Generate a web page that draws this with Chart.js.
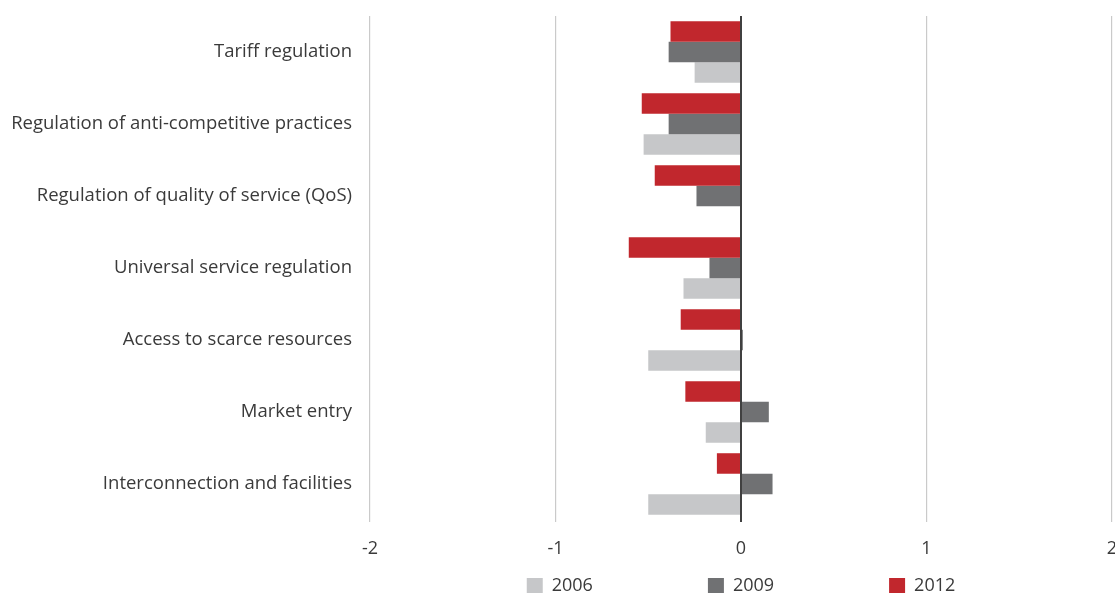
<!DOCTYPE html>
<html>
<head>
<meta charset="utf-8">
<script src="https://cdn.jsdelivr.net/npm/chart.js@4/dist/chart.umd.min.js"></script>
<style>
  html, body { margin: 0; padding: 0; background: #fff; overflow: hidden; }
  #wrap { width: 1115px; height: 593px; position: relative; }
</style>
</head>
<body>
<div id="wrap"><canvas id="chart"></canvas></div>
<script>
/* ── data ─────────────────────────────────────────────── */
const categories = [
  'Tariff regulation',
  'Regulation of anti-competitive practices',
  'Regulation of quality of service (QoS)',
  'Universal service regulation',
  'Access to scarce resources',
  'Market entry',
  'Interconnection and facilities'
];
const values2012 = [-0.38, -0.535, -0.465, -0.605, -0.325, -0.30, -0.13];
const values2009 = [-0.39, -0.39, -0.24, -0.17, 0.01, 0.15, 0.17];
const values2006 = [-0.25, -0.525, null, -0.31, -0.50, -0.19, -0.50];
const xTicks = [-2, -1, 0, 1, 2];

const RED = '#c1272d', DARK = '#707173', LIGHT = '#c6c7c9';
const TEXT = '#3a3a3a';
const FONT = "'Open Sans', 'Noto Sans', sans-serif";

/* legend sits flush under the axis; padding only spreads items sideways */
const legendNudge = {
  id: 'legendNudge',
  afterLayout(chart) {
    const lg = chart.legend;
    if (!lg) return;
    lg.top -= lg.options.labels.padding - 8;
  }
};

new Chart(document.getElementById('chart'), {
  type: 'bar',
  data: {
    labels: categories,
    datasets: [
      { label: '2012', data: values2012, backgroundColor: RED },
      { label: '2009', data: values2009, backgroundColor: DARK },
      { label: '2006', data: values2006, backgroundColor: LIGHT }
    ]
  },
  options: {
    indexAxis: 'y',
    responsive: true,
    maintainAspectRatio: false,
    animation: false,
    categoryPercentage: 0.855,
    barPercentage: 1,
    layout: { padding: { top: 16, right: 3, left: 0, bottom: 0 } },
    scales: {
      x: {
        min: -2, max: 2,
        afterBuildTicks: s => { s.ticks = xTicks.map(v => ({ value: v })); },
        afterFit: s => { s.height = 49; s.paddingLeft = 0; s.paddingRight = 0; },
        border: { display: false },
        grid: {
          color: c => c.tick && c.tick.value === 0 ? '#404040' : '#cacaca',
          lineWidth: c => c.tick && c.tick.value === 0 ? 2 : 1.2,
          tickLength: 2
        },
        ticks: { color: TEXT, font: { family: FONT, size: 18 }, padding: 16.5 }
      },
      y: {
        afterFit: s => { s.width = 370; s.paddingTop = 0; s.paddingBottom = 0; },
        border: { display: false },
        grid: { display: false, drawTicks: false },
        ticks: { color: TEXT, font: { family: FONT, size: 18.5 }, padding: 18 }
      }
    },
    plugins: {
      tooltip: { enabled: false },
      legend: {
        position: 'bottom',
        fullSize: false,
        reverse: true,
        maxHeight: 24,
        labels: {
          color: TEXT,
          font: { family: FONT, size: 18 },
          boxWidth: 16,
          boxHeight: 16,
          padding: 115
        }
      }
    }
  },
  plugins: [legendNudge]
});
</script>
</body>
</html>
